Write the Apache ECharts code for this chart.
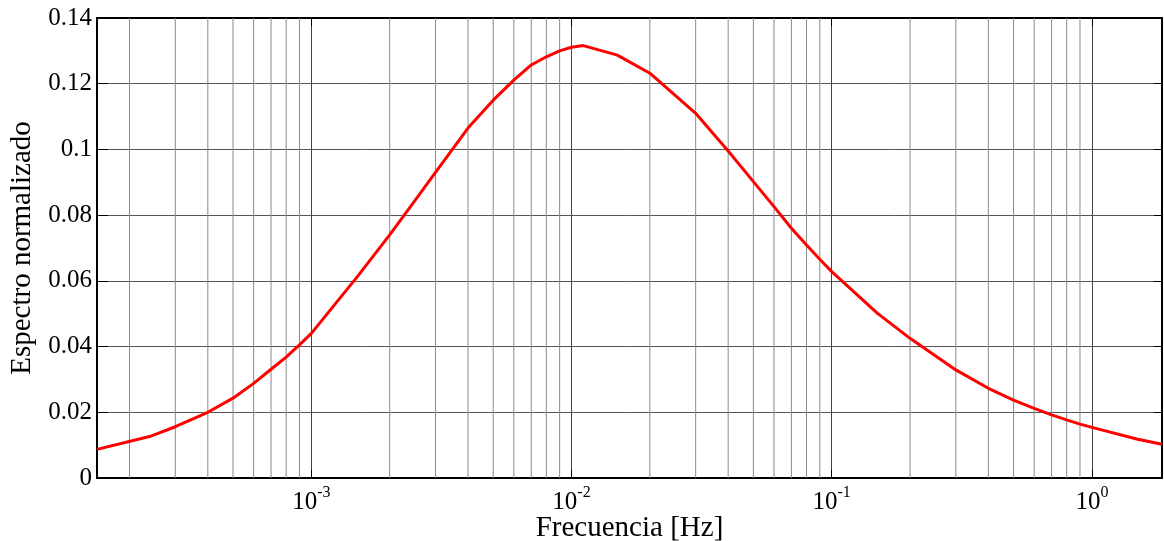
<!DOCTYPE html>
<html>
<head>
<meta charset="utf-8">
<script src="https://cdn.jsdelivr.net/npm/echarts@6/dist/echarts.min.js"></script>
<style>
  html, body { margin: 0; padding: 0; background: #ffffff; }
  #chart { width: 1164px; height: 541px; }
</style>
</head>
<body>
<div id="chart"></div>
<script>
// ---- data ----
const freqs = [1.5e-4, 2.43e-4, 3e-4, 4e-4, 5e-4, 6e-4, 7e-4, 8e-4, 9e-4,
  1e-3, 1.5e-3, 2e-3, 2.5e-3, 3e-3, 4e-3, 5e-3, 6e-3, 7e-3, 8e-3, 9e-3,
  1e-2, 1.11e-2, 1.5e-2, 2e-2, 3e-2, 4e-2, 5e-2, 6e-2, 7e-2, 8e-2, 9e-2,
  0.1, 0.15, 0.2, 0.3, 0.4, 0.5, 0.6, 0.7, 0.8, 0.9, 1.0, 1.5, 1.86];
const spectrum = [0.0087, 0.0128, 0.0156, 0.0200, 0.0243, 0.0288, 0.0331, 0.0368, 0.0405,
  0.0440, 0.0612, 0.0740, 0.0844, 0.0930, 0.1065, 0.1150, 0.1211, 0.1257, 0.1282, 0.1300,
  0.1311, 0.1316, 0.1287, 0.1232, 0.1110, 0.0995, 0.0902, 0.0826, 0.0760, 0.0709, 0.0666,
  0.0628, 0.0501, 0.0425, 0.0329, 0.0273, 0.0237, 0.0212, 0.0192, 0.0177, 0.0164, 0.0154, 0.0118, 0.0103];
const minorGrid = [2e-4, 3e-4, 4e-4, 5e-4, 6e-4, 7e-4, 8e-4, 9e-4,
  2e-3, 3e-3, 4e-3, 5e-3, 6e-3, 7e-3, 8e-3, 9e-3,
  2e-2, 3e-2, 4e-2, 5e-2, 6e-2, 7e-2, 8e-2, 9e-2,
  0.2, 0.3, 0.4, 0.5, 0.6, 0.7, 0.8, 0.9];
const xMin = 1.5e-4, xMax = 1.86;
const yMin = 0, yMax = 0.14, yStep = 0.02;
const xName = 'Frecuencia [Hz]';
const yName = 'Espectro normalizado';

const FONT = '"Liberation Serif", "DejaVu Serif", serif';
const chart = echarts.init(document.getElementById('chart'), null, { renderer: 'canvas' });

function expLabel(v) {
  const l = Math.log10(v);
  const e = Math.round(l);
  if (Math.abs(l - e) > 1e-6) return '';
  return '{b|10}{s|' + e + '}';
}

const axisLine = { show: true, onZero: false, lineStyle: { color: '#000', width: 2 } };

const minorSeries = minorGrid.map(f => ({
  type: 'line', xAxisIndex: 0, yAxisIndex: 0, z: 1, silent: true,
  data: [[f, yMin], [f, yMax]],
  symbol: 'none', showSymbol: false,
  lineStyle: { color: '#8a8a8a', width: 1 },
  emphasis: { disabled: true }, tooltip: { show: false }
}));

const option = {
  animation: false,
  backgroundColor: '#ffffff',
  grid: { left: 97, right: 2, top: 18, bottom: 63, containLabel: false, outerBoundsMode: 'none' },
  xAxis: [
    {
      type: 'log', logBase: 10, min: xMin, max: xMax, position: 'bottom',
      axisLine: axisLine,
      axisTick: { show: true, inside: true, length: 8, lineStyle: { color: '#000', width: 1 } },
      splitLine: { show: true, lineStyle: { color: '#444', width: 1 } },
      minorTick: { show: false }, minorSplitLine: { show: false },
      axisLabel: {
        show: true, margin: 7, showMinLabel: false, showMaxLabel: false,
        formatter: expLabel,
        rich: {
          b: { fontFamily: FONT, fontSize: 25, color: '#000', lineHeight: 30, verticalAlign: 'bottom' },
          s: { fontFamily: FONT, fontSize: 16, color: '#000', lineHeight: 16, verticalAlign: 'top' }
        }
      },
      name: xName, nameLocation: 'middle', nameGap: 36, nameMoveOverlap: false,
      nameTextStyle: { fontFamily: FONT, fontSize: 29, color: '#000' }
    },
    {
      type: 'log', logBase: 10, min: xMin, max: xMax, position: 'top',
      axisLine: axisLine,
      axisTick: { show: true, inside: true, length: 8, lineStyle: { color: '#000', width: 1 } },
      axisLabel: { show: false }, splitLine: { show: false }
    }
  ],
  yAxis: [
    {
      type: 'value', min: yMin, max: yMax, interval: yStep, position: 'left',
      axisLine: axisLine,
      axisTick: { show: true, inside: true, length: 11, lineStyle: { color: '#000', width: 1 } },
      splitLine: { show: true, lineStyle: { color: '#555', width: 1 } },
      axisLabel: { margin: 5, fontFamily: FONT, fontSize: 25, color: '#000' },
      name: yName, nameLocation: 'middle', nameGap: 60, nameRotate: 90, nameMoveOverlap: false,
      nameTextStyle: { fontFamily: FONT, fontSize: 29, color: '#000' }
    },
    {
      type: 'value', min: yMin, max: yMax, interval: yStep, position: 'right',
      axisLine: axisLine,
      axisTick: { show: true, inside: true, length: 8, lineStyle: { color: '#000', width: 1 } },
      axisLabel: { show: false }, splitLine: { show: false }
    }
  ],
  series: minorSeries.concat([
    {
      type: 'line', xAxisIndex: 0, yAxisIndex: 0, z: 5,
      data: freqs.map((f, i) => [f, spectrum[i]]),
      showSymbol: false, symbol: 'none', smooth: false,
      lineStyle: { color: '#ff0000', width: 3 },
      itemStyle: { color: '#ff0000' }
    }
  ])
};
chart.setOption(option);
</script>
</body>
</html>
